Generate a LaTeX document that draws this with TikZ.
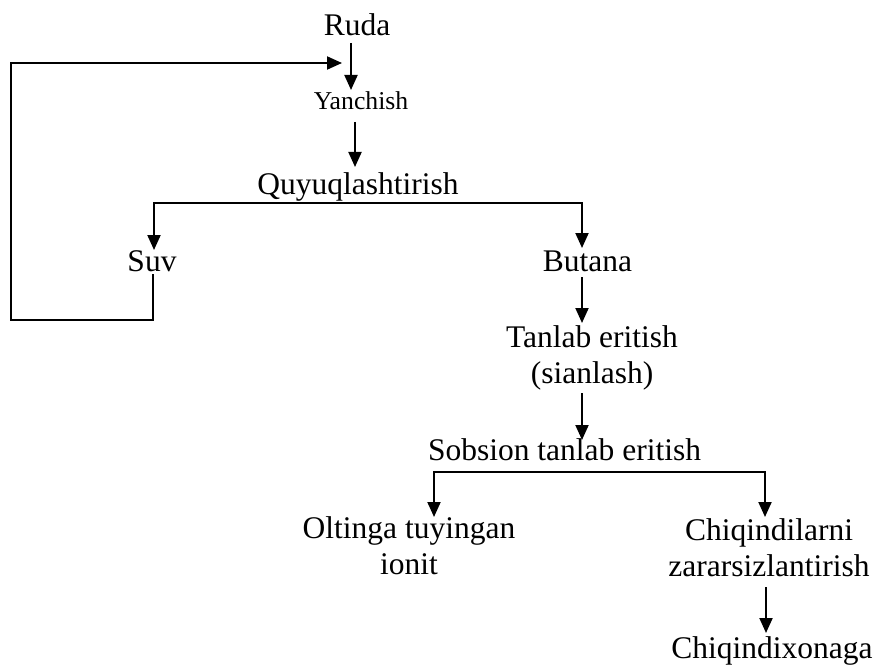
\documentclass[tikz,border=0pt]{standalone}
\usepackage{fontspec}
\setmainfont{Liberation Serif}
\usetikzlibrary{arrows.meta,calc}
\begin{document}
\begin{tikzpicture}[x=1pt,y=-1pt,
  lbl/.style={inner sep=0pt, anchor=base, font=\fontsize{31.5}{36}\selectfont},
  small/.style={inner sep=0pt, anchor=base, font=\fontsize{25.7}{30}\selectfont},
  arr/.style={line width=2pt, -{Triangle[length=15pt,width=13pt]}}]
\path[use as bounding box] (0,0) rectangle (874,668);
\node[lbl] (ruda) at (357,36) {Ruda};
\node[small] (yanch) at (361,110) {Yanchish};
\node[lbl] (quyuq) at (358,195) {Quyuqlashtirish};
\node[lbl] (suv) at (152,271) {Suv};
\node[lbl] (butana) at (587.5,271) {Butana};
\node[lbl] (tanlab) at (592,347) {\begin{tabular}[t]{@{}c@{}}Tanlab eritish\\(sianlash)\end{tabular}};
\node[lbl] (sobsion) at (564.5,460) {Sobsion tanlab eritish};
\node[lbl] (oltin) at (409,538) {\begin{tabular}[t]{@{}c@{}}Oltinga tuyingan\\ionit\end{tabular}};
\node[lbl] (chiq) at (769,540) {\begin{tabular}[t]{@{}c@{}}Chiqindilarni\\zararsizlantirish\end{tabular}};
\node[lbl] (chx) at (772,658) {Chiqindixonaga};
\coordinate (lc) at (11,320);
\coordinate (fb) at (342,63);
\draw[arr] ($(ruda.base)+(-6,7)$) -- ($(yanch.base)+(-10,-20)$);
\draw[arr] ($(suv.base)+(1,3)$) |- (lc) |- (fb);
\draw[arr] ($(yanch.base)+(-6,12)$) -- ($(quyuq.base)+(-3,-28)$);
\draw[arr] ($(quyuq.base)+(0,8)$) -| ($(suv.base)+(2,-21)$);
\draw[arr] ($(quyuq.base)+(0,8)$) -| ($(butana.base)+(-5.5,-23)$);
\draw[arr] ($(butana.base)+(-5.5,6)$) -- ($(tanlab.base)+(-10,-24)$);
\draw[arr] ($(tanlab.base)+(-10,46)$) -- ($(sobsion.base)+(17.5,-20)$);
\draw[arr] ($(sobsion.base)+(0,12)$) -| ($(oltin.base)+(25,-21)$);
\draw[arr] ($(sobsion.base)+(0,12)$) -| ($(chiq.base)+(-4,-23)$);
\draw[arr] ($(chiq.base)+(-3,47)$) -- ($(chx.base)+(-6,-25)$);
\end{tikzpicture}
\end{document}
